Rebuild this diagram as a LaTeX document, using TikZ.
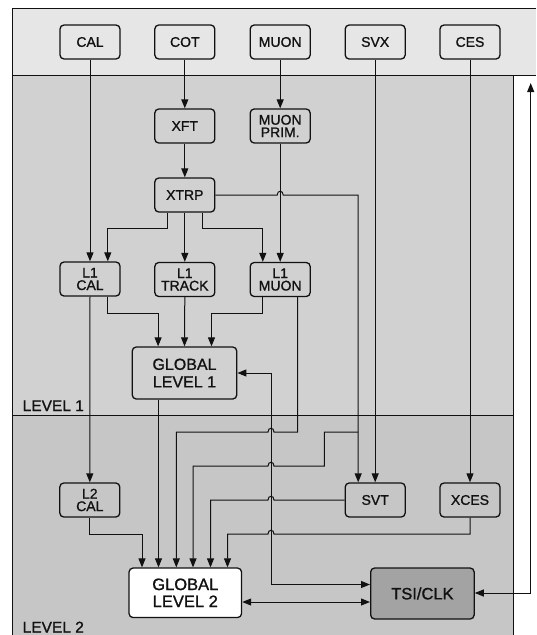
\documentclass[tikz,border=0pt]{standalone}
\usepackage{fontspec}
\setmainfont{Liberation Sans}[FakeBold=1.1]
\usetikzlibrary{arrows.meta,calc}
\definecolor{topband}{HTML}{E6E6E6}
\definecolor{lvlone}{HTML}{D1D1D1}
\definecolor{lvltwo}{HTML}{C6C6C6}
\definecolor{tsifill}{HTML}{A3A3A3}
\definecolor{ink}{HTML}{111111}
\begin{document}
\begin{tikzpicture}[x=1pt,y=-1pt,
  box/.style={draw=ink,line width=1.3pt,rounded corners=4pt,minimum width=60pt,minimum height=34pt,inner sep=0pt,align=center,font=\fontsize{14}{12.5}\selectfont,text=ink},
  bigbox/.style={box,font=\fontsize{16}{17.5}\selectfont},
  arr/.style={draw=ink,line width=1pt,-{Triangle[length=9pt,width=7pt]}},
  darr/.style={draw=ink,line width=1pt,{Triangle[length=9pt,width=7pt]}-{Triangle[length=9pt,width=7pt]}},
  frame/.style={draw=ink,line width=1pt},
  lvl/.style={font=\fontsize{15.5}{15.5}\selectfont,text=ink,anchor=base west,inner sep=0pt}]
\useasboundingbox (0,0) rectangle (536,635);
% backgrounds
\fill[topband] (12,8) rectangle (536,75);
\fill[lvlone] (12,75) rectangle (513.3,415.5);
\fill[lvltwo] (12,415.5) rectangle (513.3,635);
\draw[frame] (536,8) -- (12,8) -- (12,635);
\draw[frame] (12,75) -- (536,75);
\draw[frame] (513.3,75) -- (513.3,635);
\draw[frame] (12,415.5) -- (513.3,415.5);
\node[lvl] (lab1) at (22.5,411) {LEVEL 1};
\node[lvl] (lab2) at (22.5,632.5) {LEVEL 2};
% top row
\node[box,fill=topband] (cal) at (90,42) {CAL};
\node[box,fill=topband] (cot) at (184.8,42) {COT};
\node[box,fill=topband] (muon) at (280.2,42) {MUON};
\node[box,fill=topband] (svx) at (375.2,42) {SVX};
\node[box,fill=topband] (ces) at (470,42) {CES};
% level 1
\node[box] (xft) at (184.8,126) {XFT};
\node[box] (mprim) at (280.2,126) {MUON\\PRIM.};
\node[box] (xtrp) at (184.8,195) {XTRP};
\node[box] (l1cal) at (90,279) {L1\\CAL};
\node[box] (l1trk) at (184.8,279.5) {L1\\TRACK};
\node[box] (l1muon) at (280.2,279.5) {L1\\MUON};
\node[bigbox,minimum width=104.5pt,minimum height=52pt] (gl1) at (184.5,373) {GLOBAL\\LEVEL 1};
% level 2
\node[box] (l2cal) at (89.8,500) {L2\\CAL};
\node[box] (svt) at (375.2,500) {SVT};
\node[box] (xces) at (470,500) {XCES};
\node[bigbox,fill=white,minimum width=112.5pt,minimum height=49.5pt,font=\fontsize{16.5}{17}\selectfont] (gl2) at (185.3,592.8) {GLOBAL\\LEVEL 2};
\node[bigbox,fill=tsifill,minimum width=103.5pt,minimum height=51pt,font=\fontsize{16.5}{17}\selectfont] (tsi) at (422.4,593.5) {TSI/CLK};
\coordinate (topend) at (530.7,83);
% connectors, level 1
\draw[arr] (cal.south) -- (l1cal.north);
\draw[arr] (cot.south) -- (xft.north);
\draw[arr] (xft.south) -- (xtrp.north);
\draw[arr] (muon.south) -- (mprim.north);
\draw[arr] (mprim.south) -- (l1muon.north);
\draw[arr] (167.3,0 |- xtrp.south) -- (167.3,228) -- (107.8,228) -- (107.8,0 |- l1cal.north);
\draw[arr] (xtrp.south) -- (l1trk.north);
\draw[arr] (202.2,0 |- xtrp.south) -- (202.2,228) -- (262.8,228) -- (262.8,0 |- l1muon.north);
\draw[arr] (xtrp.east) -- (277.2,195) .. controls (277.2,190) and (283.2,190) .. (283.2,195) -- (358.2,195) -- (358.2,0 |- svt.north);
\draw[arr] (svx.south) -- (svt.north);
\draw[arr] (ces.south) -- (xces.north);
\draw[arr] (l1cal.south) -- (l2cal.north);
\draw[arr] (107.8,0 |- l1cal.south) -- (107.8,313) -- (158.1,313) -- (158.1,0 |- gl1.north);
\draw[arr] (l1trk.south) -- (gl1.north);
\draw[arr] (262.8,0 |- l1muon.south) -- (262.8,313) -- (211.5,313) -- (211.5,0 |- gl1.north);
% connectors, level 2
\draw[arr] (158.5,0 |- gl1.south) -- (158.5,0 |- gl2.north);
\draw[arr] (297.7,0 |- l1muon.south) -- (297.7,432) -- (274,432) .. controls (274,427) and (268,427) .. (268,432) -- (176.3,432) -- (176.3,0 |- gl2.north);
\draw[arr] (358.2,432) -- (324.4,432) -- (324.4,466) -- (274,466) .. controls (274,461) and (268,461) .. (268,466) -- (193,466) -- (193,0 |- gl2.north);
\draw[arr] (svt.west) -- (274,500) .. controls (274,495) and (268,495) .. (268,500) -- (210.5,500) -- (210.5,0 |- gl2.north);
\draw[arr] (470,0 |- xces.south) -- (470,534) -- (274,534) .. controls (274,529) and (268,529) .. (268,534) -- (227.5,534) -- (227.5,0 |- gl2.north);
\draw[arr] (89.8,0 |- l2cal.south) -- (89.8,534) -- (142,534) -- (142,0 |- gl2.north);
\draw[darr] (gl1.east) -- (271,373) -- (271,584.5) -- (tsi.west |- 0,584.5);
\draw[darr] (gl2.east |- 0,602) -- (tsi.west |- 0,602);
\draw[darr] (tsi.east |- 0,593) -- (530.7,593) -- (topend);
\end{tikzpicture}
\end{document}
